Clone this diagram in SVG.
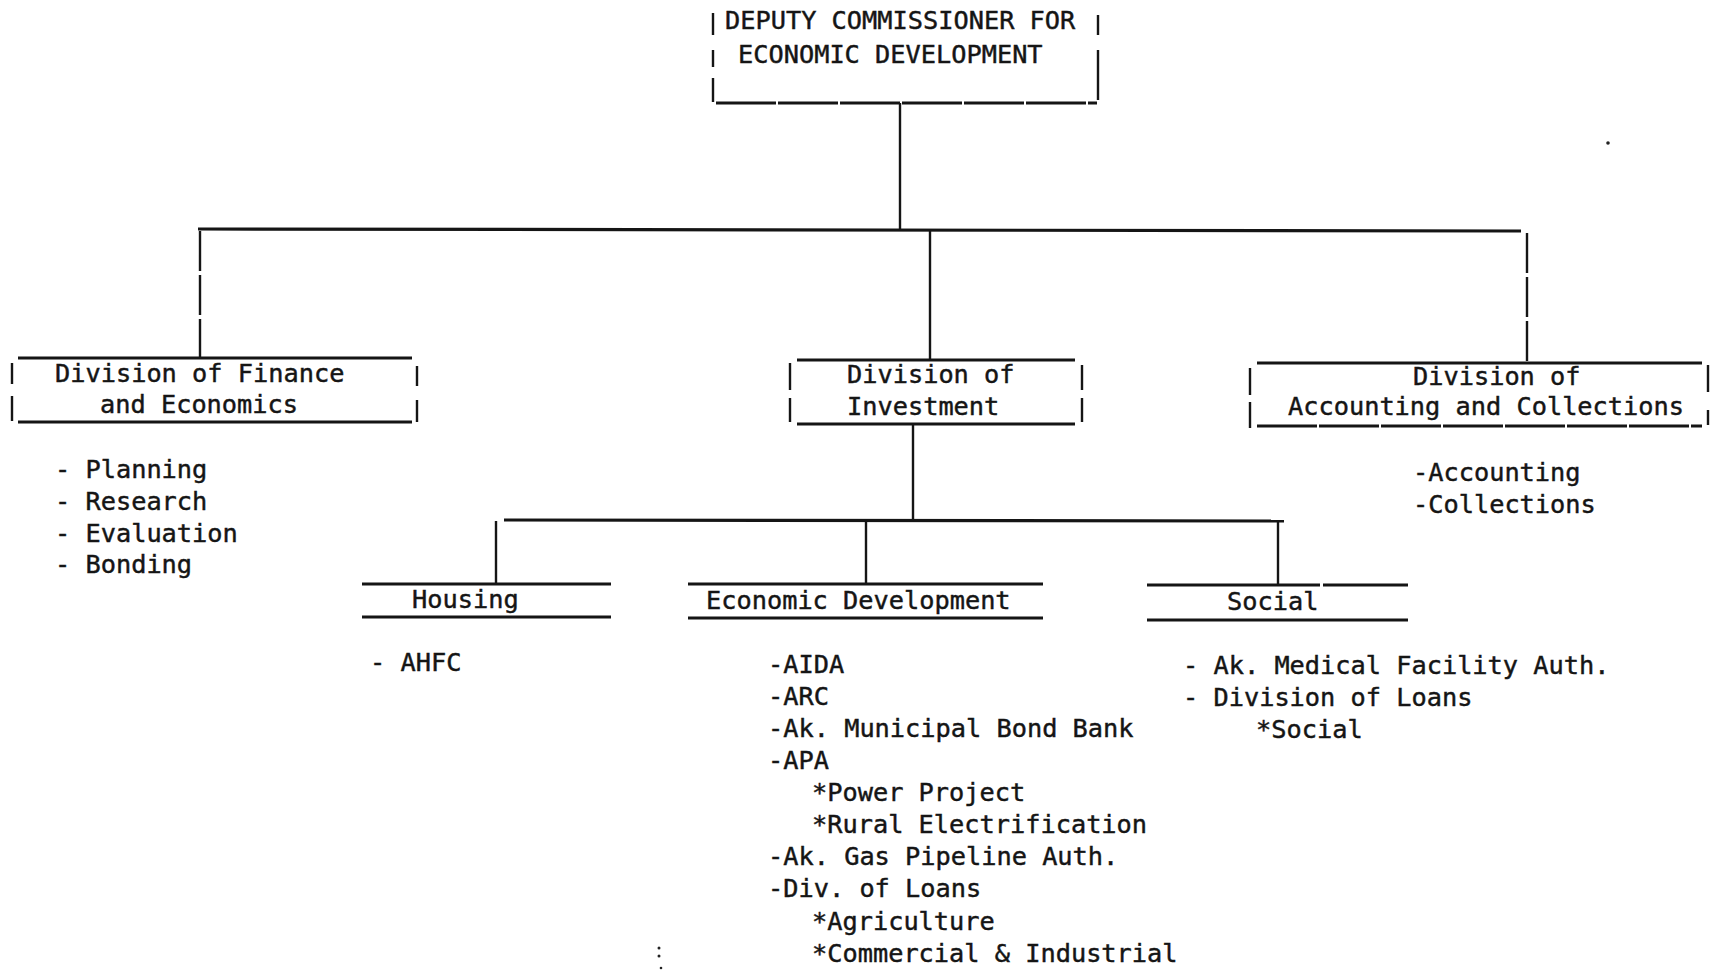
<svg xmlns="http://www.w3.org/2000/svg" width="1719" height="971" viewBox="0 0 1719 971">
<style>
.t{font-family:"DejaVu Sans Mono","Liberation Mono",monospace;font-size:25.3px;fill:#151515;stroke:#151515;stroke-width:0.45}
.rule{stroke:#151515;stroke-width:3.2;fill:none;stroke-linecap:butt}
.bar{stroke:#151515;stroke-width:2.4;fill:none}
.typed{stroke-dasharray:60 2}
</style>
<rect width="1719" height="971" fill="#ffffff"/>
<g id="connectors">
<line class="bar" x1="900" y1="103" x2="900" y2="229"/>
<line class="rule" x1="198" y1="229" x2="1521" y2="231"/>
<line class="bar" x1="200" y1="231" x2="200" y2="358" stroke-dasharray="40 4"/>
<line class="bar" x1="930" y1="231" x2="930" y2="360"/>
<line class="bar" x1="1527" y1="233" x2="1527" y2="363" stroke-dasharray="40 4"/>
<line class="bar" x1="913" y1="424" x2="913" y2="520"/>
<line class="rule" x1="504" y1="520" x2="1284" y2="521"/>
<line class="bar" x1="496" y1="521" x2="496" y2="584"/>
<line class="bar" x1="866" y1="521" x2="866" y2="584"/>
<line class="bar" x1="1278" y1="521" x2="1278" y2="585"/>
</g>
<g id="deputy-commissioner">
<path class="bar" d="M713 13V35M713 50V67M713 78V102M1098 15V35M1098 60V80M1098 50V67M1098 78V100"/>
<line class="rule typed" x1="716" y1="103" x2="1097" y2="103"/>
<text class="t" x="725" y="29">DEPUTY COMMISSIONER FOR</text>
<text class="t" x="738" y="63">ECONOMIC DEVELOPMENT</text>
</g>
<g id="div-finance">
<line class="rule" x1="18" y1="358" x2="412" y2="358"/>
<line class="rule" x1="18" y1="422" x2="412" y2="422"/>
<path class="bar" d="M12 363V384M12 396V421M417 366V386M417 400V422"/>
<text class="t" x="55" y="382">Division of Finance</text>
<text class="t" x="100" y="413">and Economics</text>
<text class="t" x="55" y="478">- Planning</text>
<text class="t" x="55" y="510">- Research</text>
<text class="t" x="55" y="542">- Evaluation</text>
<text class="t" x="55" y="573">- Bonding</text>
</g>
<g id="div-investment">
<line class="rule" x1="797" y1="360" x2="1075" y2="360"/>
<line class="rule" x1="797" y1="424" x2="1075" y2="424"/>
<path class="bar" d="M790 363V390M790 398V422M1082 365V390M1082 398V422"/>
<text class="t" x="847" y="383">Division of</text>
<text class="t" x="847" y="415">Investment</text>
</g>
<g id="div-accounting">
<line class="rule" x1="1257" y1="363" x2="1702" y2="363"/>
<line class="rule typed" x1="1257" y1="426" x2="1702" y2="426"/>
<path class="bar" d="M1250 368V395M1250 402V428M1708 365V392M1708 410V425"/>
<text class="t" x="1413" y="385">Division of</text>
<text class="t" x="1288" y="415">Accounting and Collections</text>
<text class="t" x="1413" y="481">-Accounting</text>
<text class="t" x="1413" y="513">-Collections</text>
</g>
<g id="housing">
<line class="rule" x1="362" y1="584" x2="611" y2="584"/>
<line class="rule" x1="362" y1="617" x2="611" y2="617"/>
<text class="t" x="412" y="608">Housing</text>
<text class="t" x="370" y="671">- AHFC</text>
</g>
<g id="economic-development">
<line class="rule" x1="688" y1="584" x2="1043" y2="584"/>
<line class="rule" x1="688" y1="618" x2="1043" y2="618"/>
<text class="t" x="706" y="609">Economic Development</text>
<text class="t" x="768" y="673">-AIDA</text>
<text class="t" x="768" y="705">-ARC</text>
<text class="t" x="768" y="737">-Ak. Municipal Bond Bank</text>
<text class="t" x="768" y="769">-APA</text>
<text class="t" x="812" y="801">*Power Project</text>
<text class="t" x="812" y="833">*Rural Electrification</text>
<text class="t" x="768" y="865">-Ak. Gas Pipeline Auth.</text>
<text class="t" x="768" y="897">-Div. of Loans</text>
<text class="t" x="812" y="930">*Agriculture</text>
<text class="t" x="812" y="962">*Commercial &amp; Industrial</text>
</g>
<g id="social">
<path class="rule" d="M1147 585H1320M1323 585H1408"/>
<line class="rule" x1="1147" y1="620" x2="1408" y2="620"/>
<text class="t" x="1227" y="610">Social</text>
<text class="t" x="1183" y="674">- Ak. Medical Facility Auth.</text>
<text class="t" x="1183" y="706">- Division of Loans</text>
<text class="t" x="1256" y="738">*Social</text>
</g>
<g id="specks" fill="#222">
<circle cx="1608" cy="143" r="1.8"/>
<circle cx="659" cy="948" r="1.5"/>
<circle cx="659" cy="956" r="1.5"/>
<circle cx="661" cy="968" r="1.3"/>
</g>
</svg>
